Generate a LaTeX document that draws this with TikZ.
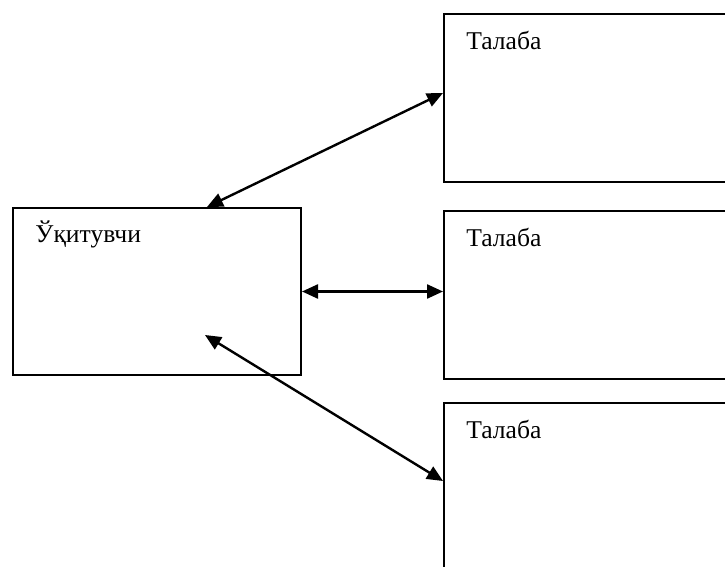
\documentclass[tikz,border=0pt]{standalone}
\usepackage{fontspec}
\setmainfont{Liberation Serif}
\usetikzlibrary{arrows.meta}

\begin{document}
\begin{tikzpicture}[x=0.5pt,y=-0.5pt,
  box/.style={draw, line width=1pt, anchor=north west, inner sep=0pt},
  txt/.style={anchor=base west, inner sep=0pt, font=\fontsize{12.8}{15}\selectfont},
  link/.style={line width=1.2pt, {Triangle[length=8pt,width=7pt]}-{Triangle[length=8pt,width=7pt]}}]
\useasboundingbox (0,0) rectangle (725,567);

\node[box, minimum width=144pt, minimum height=83.5pt] (teacher) at (12,207) {};
\node[box, minimum width=148.5pt, minimum height=84pt] (s1) at (443,13) {};
\node[box, minimum width=148.5pt, minimum height=84pt] (s2) at (443,210) {};
\node[box, minimum width=148.5pt, minimum height=84pt] (s3) at (443,402) {};

\node[txt] (tteacher) at ([shift={(23,36)}]teacher.north west) {Ўқитувчи};
\foreach \s in {s1,s2,s3}
\node[txt] (t\s) at ([shift={(23,37)}]\s.north west) {Талаба};

\coordinate (top) at ([shift={(-95,0)}]teacher.north east);
\coordinate (low) at ([shift={(-97,-41)}]teacher.south east);

\draw[link] (top) -- ([shift={(0,-5)}]s1.west);
\draw[link] (teacher.east) -- (teacher.east -| s2.west);
\draw[link] (low) -- ([shift={(0,-6)}]s3.west);

\end{tikzpicture}
\end{document}
